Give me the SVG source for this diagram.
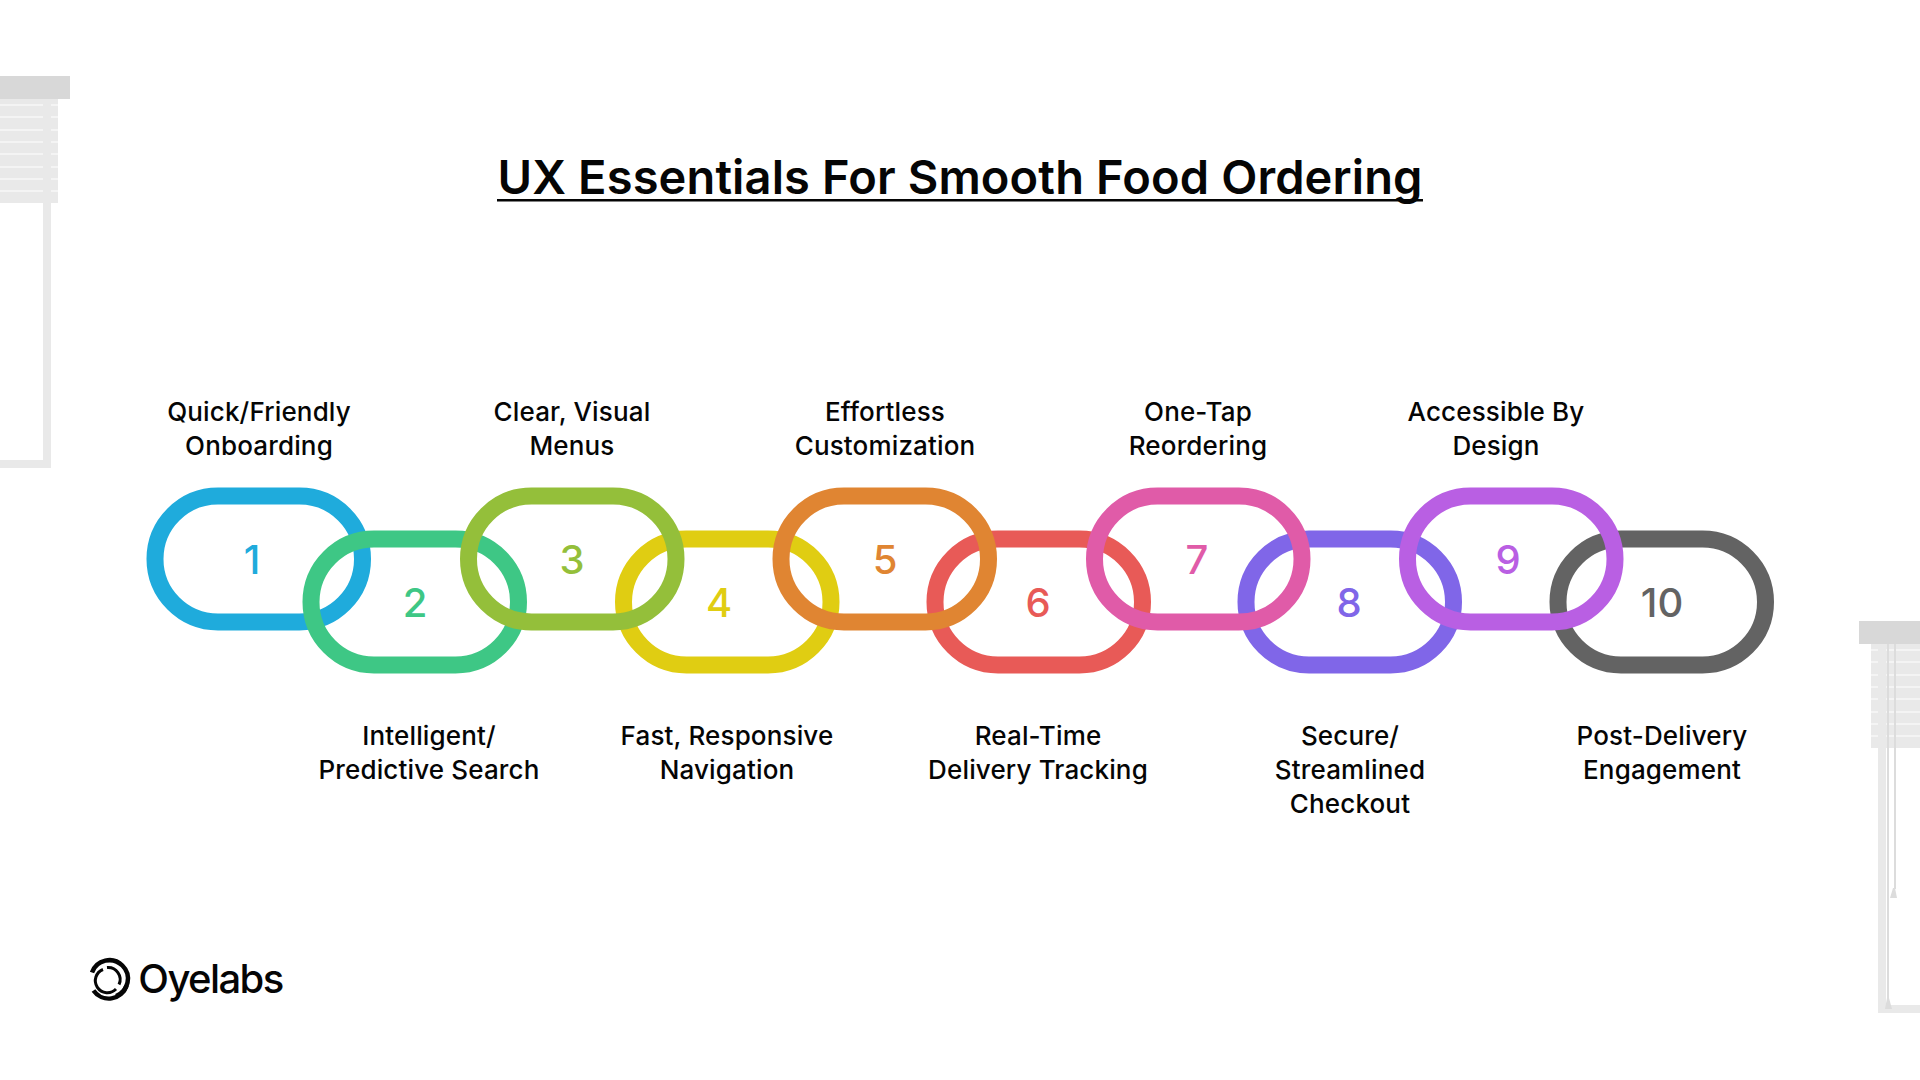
<svg xmlns="http://www.w3.org/2000/svg" width="1920" height="1080" viewBox="0 0 1920 1080">
<style>
text{font-family:"Inter","Liberation Sans",sans-serif;text-anchor:middle;fill:#050505}
.t{font-size:47px;font-weight:600}
.l{font-size:26px;font-weight:500;letter-spacing:.15px}
.n{font-size:40px;font-weight:500}
.r{fill:none;stroke-width:17}
.w{fill:#e9e9e9}
.h{fill:#d8d8d8}
.s{fill:#f4f4f4}
.c{fill:#dcdcdc}
.k{fill:none;stroke:#050505}
</style>
<rect width="1920" height="1080" fill="#fff"/>
<g id="blind-left">
<rect class="h" x="0" y="76" width="70" height="23"/>
<rect class="w" x="0" y="99" width="58" height="104"/>
<rect class="w" x="43" y="99" width="8" height="369"/>
<rect class="w" x="0" y="460" width="51" height="8"/>
<g class="s"><rect x="0" y="104" width="43" height="2"/><rect x="0" y="116" width="43" height="2"/><rect x="0" y="129" width="43" height="2"/><rect x="0" y="141" width="43" height="2"/><rect x="0" y="153" width="43" height="2"/><rect x="0" y="166" width="43" height="2"/><rect x="0" y="178" width="43" height="2"/><rect x="0" y="190" width="43" height="2"/>
<rect x="51" y="104" width="7" height="2"/><rect x="51" y="116" width="7" height="2"/><rect x="51" y="129" width="7" height="2"/><rect x="51" y="141" width="7" height="2"/><rect x="51" y="153" width="7" height="2"/><rect x="51" y="166" width="7" height="2"/><rect x="51" y="178" width="7" height="2"/><rect x="51" y="190" width="7" height="2"/></g>
</g>
<g id="blind-right">
<rect class="h" x="1859" y="621" width="61" height="23"/>
<rect class="w" x="1871" y="644" width="49" height="104"/>
<rect class="w" x="1878" y="644" width="8" height="369"/>
<rect class="w" x="1878" y="1005" width="42" height="8"/>
<g class="s"><rect x="1871" y="649" width="7" height="2"/><rect x="1871" y="661" width="7" height="2"/><rect x="1871" y="674" width="7" height="2"/><rect x="1871" y="686" width="7" height="2"/><rect x="1871" y="698" width="7" height="2"/><rect x="1871" y="711" width="7" height="2"/><rect x="1871" y="723" width="7" height="2"/><rect x="1871" y="735" width="7" height="2"/>
<rect x="1886" y="649" width="34" height="2"/><rect x="1886" y="661" width="34" height="2"/><rect x="1886" y="674" width="34" height="2"/><rect x="1886" y="686" width="34" height="2"/><rect x="1886" y="698" width="34" height="2"/><rect x="1886" y="711" width="34" height="2"/><rect x="1886" y="723" width="34" height="2"/><rect x="1886" y="735" width="34" height="2"/></g>
<rect class="c" x="1887" y="644" width="2" height="355"/><rect class="c" x="1894" y="644" width="2" height="245"/>
<path class="c" d="M1893 888h2l2 10h-7zM1887 998h2l3 11h-7z"/>
</g>
<text class="t" x="960" y="194" textLength="925" lengthAdjust="spacing">UX Essentials For Smooth Food Ordering</text>
<rect x="497" y="199" width="926" height="2.5" fill="#050505"/>
<g id="connectors"></g>
<g id="ring-1"><rect class="r" x="155" y="496" width="207.500" height="126" rx="63" stroke="#1fabdc"/><text class="n" x="252" y="574" style="fill:#1fabdc">1</text></g>
<g id="ring-2"><rect class="r" x="311" y="539" width="207.500" height="126" rx="63" stroke="#3ec785"/><text class="n" x="415" y="617" style="fill:#3ec785">2</text></g>
<g id="ring-4"><rect class="r" x="623.500" y="539" width="207.500" height="126" rx="63" stroke="#e0cd12"/><text class="n" x="719" y="617" style="fill:#e0cd12">4</text></g>
<g id="ring-6"><rect class="r" x="935" y="539" width="207.500" height="126" rx="63" stroke="#e85a57"/><text class="n" x="1038" y="617" style="fill:#e85a57">6</text></g>
<g id="ring-8"><rect class="r" x="1246" y="539" width="207.500" height="126" rx="63" stroke="#8066e8"/><text class="n" x="1349" y="617" style="fill:#8066e8">8</text></g>
<g id="ring-10"><rect class="r" x="1558" y="539" width="207.500" height="126" rx="63" stroke="#636363"/><text class="n" x="1662" y="617" style="fill:#636363">10</text></g>
<g id="ring-3"><rect class="r" x="468.500" y="496" width="207.500" height="126" rx="63" stroke="#94bf3a"/><text class="n" x="572" y="574" style="fill:#94bf3a">3</text></g>
<g id="ring-5"><rect class="r" x="781" y="496" width="207.500" height="126" rx="63" stroke="#e08532"/><text class="n" x="885" y="574" style="fill:#e08532">5</text></g>
<g id="ring-7"><rect class="r" x="1094.500" y="496" width="207.500" height="126" rx="63" stroke="#e05ba8"/><text class="n" x="1197" y="574" style="fill:#e05ba8">7</text></g>
<g id="ring-9"><rect class="r" x="1407.500" y="496" width="207.500" height="126" rx="63" stroke="#b95fe3"/><text class="n" x="1508" y="574" style="fill:#b95fe3">9</text></g>
<g id="labels">
<text class="l" x="259" y="421">Quick/Friendly</text><text class="l" x="259" y="455">Onboarding</text>
<text class="l" x="572" y="421">Clear, Visual</text><text class="l" x="572" y="455">Menus</text>
<text class="l" x="885" y="421">Effortless</text><text class="l" x="885" y="455">Customization</text>
<text class="l" x="1198" y="421">One-Tap</text><text class="l" x="1198" y="455">Reordering</text>
<text class="l" x="1496" y="421">Accessible By</text><text class="l" x="1496" y="455">Design</text>
<text class="l" x="429" y="745">Intelligent/</text><text class="l" x="429" y="779">Predictive Search</text>
<text class="l" x="727" y="745">Fast, Responsive</text><text class="l" x="727" y="779">Navigation</text>
<text class="l" x="1038" y="745">Real-Time</text><text class="l" x="1038" y="779">Delivery Tracking</text>
<text class="l" x="1350" y="745">Secure/</text><text class="l" x="1350" y="779">Streamlined</text><text class="l" x="1350" y="813">Checkout</text>
<text class="l" x="1662" y="745">Post-Delivery</text><text class="l" x="1662" y="779">Engagement</text>
</g>
<g id="logo">
<path class="k" stroke-width="4.500" d="M92 972.500A18.500 18.500 0 1 1 116 996"/>
<path class="k" stroke-width="4.500" d="M126.500 985.500A18.500 18.500 0 0 1 93.500 990.500"/>
<path class="k" stroke-width="3" d="M103 969.500A12 12 0 1 0 116 989"/>
<path class="k" stroke-width="3" d="M107 967.500A12 12 0 0 1 119 984.500"/>
<text x="210.500" y="993" style="font-size:40px;font-weight:500;letter-spacing:-1.600px">Oyelabs</text>
</g>
</svg>
